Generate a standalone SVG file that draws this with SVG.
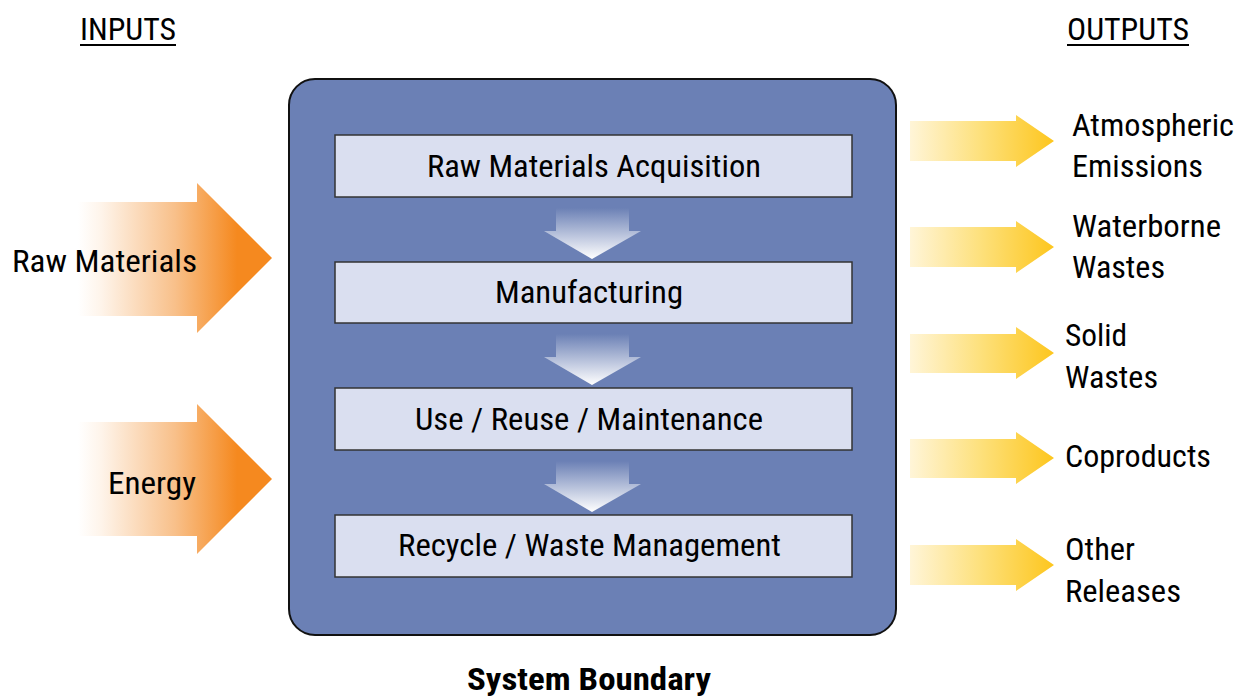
<svg xmlns="http://www.w3.org/2000/svg" width="1237" height="696" viewBox="0 0 1237 696">
<style>
text{font-family:"Liberation Sans Narrow","Roboto Condensed","Liberation Sans",Arial,sans-serif;fill:#000;font-size:32px}
.mid{text-anchor:middle}
.stage{fill:#dadff0;stroke:#333;stroke-width:1.5}
.ul{stroke:#000;stroke-width:2}
</style>
<defs>
<linearGradient id="gOrange" x1="78" y1="0" x2="272" y2="0" gradientUnits="userSpaceOnUse">
<stop offset="0" stop-color="#ffffff"/>
<stop offset="0.12" stop-color="#fef4ea"/>
<stop offset="0.5" stop-color="#f8c08a"/>
<stop offset="0.82" stop-color="#f5891f"/>
<stop offset="1" stop-color="#f5891f"/>
</linearGradient>
<linearGradient id="gYellow" x1="910" y1="0" x2="1054" y2="0" gradientUnits="userSpaceOnUse">
<stop offset="0" stop-color="#fff5d8"/>
<stop offset="0.5" stop-color="#fde07a"/>
<stop offset="1" stop-color="#fdc61e"/>
</linearGradient>
<linearGradient id="gDown" x1="0" y1="0" x2="0" y2="1">
<stop offset="0" stop-color="#6b80b5"/>
<stop offset="1" stop-color="#ffffff"/>
</linearGradient>
<path id="downArrow" d="M556,0 H629 V23 H641 L592,51 L544,23 H556 Z" fill="url(#gDown)"/>
</defs>

<g id="inputs-label"><text x="80" y="40" textLength="96" lengthAdjust="spacingAndGlyphs" font-size="30">INPUTS</text><line class="ul" x1="80" y1="45" x2="176" y2="45"/></g>
<g id="outputs-label"><text x="1067" y="40" textLength="122" lengthAdjust="spacingAndGlyphs" font-size="30">OUTPUTS</text><line class="ul" x1="1067" y1="45" x2="1189" y2="45"/></g>

<g id="connectors">
<path d="M78,202 H197 V183 L272,258 L197,333 V316 H78 Z" fill="url(#gOrange)"/>
<path d="M78,422 H197 V404 L272,479 L197,554 V536 H78 Z" fill="url(#gOrange)"/>
<path d="M910,121 H1016 V115 L1054,141 L1016,167 V161 H910 Z" fill="url(#gYellow)"/>
<path d="M910,227 H1016 V221 L1054,247 L1016,273 V267 H910 Z" fill="url(#gYellow)"/>
<path d="M910,334 H1016 V327 L1054,353 L1016,379 V373 H910 Z" fill="url(#gYellow)"/>
<path d="M910,439 H1016 V432 L1054,458 L1016,484 V478 H910 Z" fill="url(#gYellow)"/>
<path d="M910,545 H1016 V539 L1054,565 L1016,591 V585 H910 Z" fill="url(#gYellow)"/>
</g>

<g id="raw-materials"><text x="12" y="272" textLength="185" lengthAdjust="spacingAndGlyphs">Raw Materials</text></g>
<g id="energy"><text x="108" y="494" textLength="88" lengthAdjust="spacingAndGlyphs">Energy</text></g>

<g id="system-boundary">
<rect x="289" y="79" width="607" height="556" rx="26" fill="#6b80b5" stroke="#111" stroke-width="2"/>
<text class="mid" x="589" y="690" font-weight="bold" textLength="244" lengthAdjust="spacingAndGlyphs">System Boundary</text>
</g>

<g id="flow-arrows">
<use href="#downArrow" y="208"/>
<use href="#downArrow" y="334"/>
<use href="#downArrow" y="461"/>
</g>

<g id="stage-raw"><rect class="stage" x="335" y="135" width="517" height="62"/><text x="427" y="177" textLength="334" lengthAdjust="spacingAndGlyphs">Raw Materials Acquisition</text></g>
<g id="stage-mfg"><rect class="stage" x="335" y="262" width="517" height="61"/><text x="495" y="303" textLength="188" lengthAdjust="spacingAndGlyphs">Manufacturing</text></g>
<g id="stage-use"><rect class="stage" x="335" y="388" width="517" height="62"/><text x="415" y="430" textLength="348" lengthAdjust="spacingAndGlyphs">Use / Reuse / Maintenance</text></g>
<g id="stage-recycle"><rect class="stage" x="335" y="515" width="517" height="62"/><text x="398" y="556" textLength="383" lengthAdjust="spacingAndGlyphs">Recycle / Waste Management</text></g>

<g id="out-atmospheric"><text x="1072" y="136" textLength="162" lengthAdjust="spacingAndGlyphs">Atmospheric</text><text x="1072" y="177" textLength="131" lengthAdjust="spacingAndGlyphs">Emissions</text></g>
<g id="out-waterborne"><text x="1072" y="237" textLength="149" lengthAdjust="spacingAndGlyphs">Waterborne</text><text x="1072" y="278" textLength="93" lengthAdjust="spacingAndGlyphs">Wastes</text></g>
<g id="out-solid"><text x="1065" y="346" textLength="62" lengthAdjust="spacingAndGlyphs">Solid</text><text x="1065" y="388" textLength="93" lengthAdjust="spacingAndGlyphs">Wastes</text></g>
<g id="out-coproducts"><text x="1065" y="467" textLength="146" lengthAdjust="spacingAndGlyphs">Coproducts</text></g>
<g id="out-other"><text x="1065" y="560" textLength="70" lengthAdjust="spacingAndGlyphs">Other</text><text x="1065" y="602" textLength="116" lengthAdjust="spacingAndGlyphs">Releases</text></g>
</svg>
